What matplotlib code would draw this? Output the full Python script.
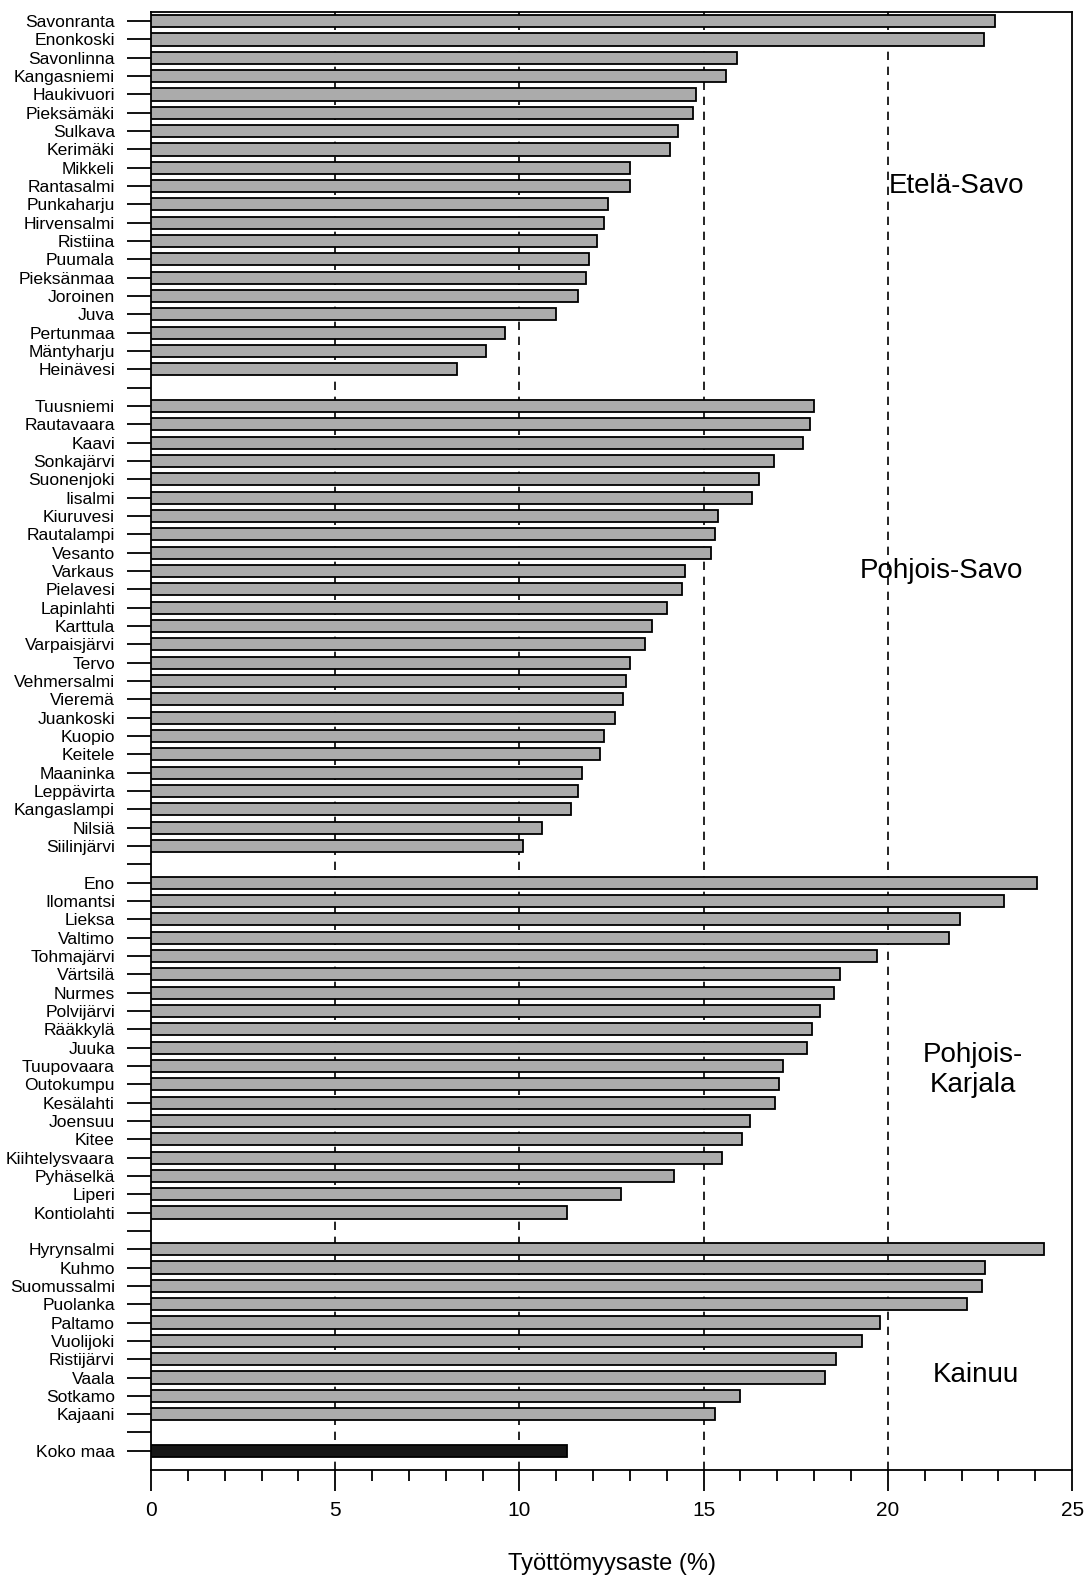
import matplotlib
matplotlib.use("Agg")
import matplotlib.pyplot as plt
import numpy as np

plt.rcParams['font.family'] = ['Liberation Sans', 'DejaVu Sans']

# Työttömyysaste (%) by municipality, grouped by region
etela_savo = ["Savonranta", "Enonkoski", "Savonlinna", "Kangasniemi", "Haukivuori",
              "Pieksämäki", "Sulkava", "Kerimäki", "Mikkeli", "Rantasalmi",
              "Punkaharju", "Hirvensalmi", "Ristiina", "Puumala", "Pieksänmaa",
              "Joroinen", "Juva", "Pertunmaa", "Mäntyharju", "Heinävesi"]
etela_savo_vals = [22.9, 22.6, 15.9, 15.6, 14.8, 14.7, 14.3, 14.1, 13.0, 13.0,
                   12.4, 12.3, 12.1, 11.9, 11.8, 11.6, 11.0, 9.6, 9.1, 8.3]

pohjois_savo = ["Tuusniemi", "Rautavaara", "Kaavi", "Sonkajärvi", "Suonenjoki",
                "Iisalmi", "Kiuruvesi", "Rautalampi", "Vesanto", "Varkaus",
                "Pielavesi", "Lapinlahti", "Karttula", "Varpaisjärvi", "Tervo",
                "Vehmersalmi", "Vieremä", "Juankoski", "Kuopio", "Keitele",
                "Maaninka", "Leppävirta", "Kangaslampi", "Nilsiä", "Siilinjärvi"]
pohjois_savo_vals = [18.0, 17.9, 17.7, 16.9, 16.5, 16.3, 15.4, 15.3, 15.2, 14.5,
                     14.4, 14.0, 13.6, 13.4, 13.0, 12.9, 12.8, 12.6, 12.3, 12.2,
                     11.7, 11.6, 11.4, 10.6, 10.1]

pohjois_karjala = ["Eno", "Ilomantsi", "Lieksa", "Valtimo", "Tohmajärvi",
                   "Värtsilä", "Nurmes", "Polvijärvi", "Rääkkylä", "Juuka",
                   "Tuupovaara", "Outokumpu", "Kesälahti", "Joensuu", "Kitee",
                   "Kiihtelysvaara", "Pyhäselkä", "Liperi", "Kontiolahti"]
pohjois_karjala_vals = [24.05, 23.15, 21.95, 21.65, 19.7, 18.7, 18.55, 18.15, 17.95,
                        17.8, 17.15, 17.05, 16.95, 16.25, 16.05, 15.5, 14.2, 12.75, 11.3]

kainuu = ["Hyrynsalmi", "Kuhmo", "Suomussalmi", "Puolanka", "Paltamo",
          "Vuolijoki", "Ristijärvi", "Vaala", "Sotkamo", "Kajaani"]
kainuu_vals = [24.25, 22.65, 22.55, 22.15, 19.8, 19.3, 18.6, 18.3, 16.0, 15.3]

koko_maa = ["Koko maa"]
koko_maa_vals = [11.3]

groups = [(etela_savo, etela_savo_vals), (pohjois_savo, pohjois_savo_vals),
          (pohjois_karjala, pohjois_karjala_vals), (kainuu, kainuu_vals),
          (koko_maa, koko_maa_vals)]

region_labels = ["Etelä-Savo", "Pohjois-Savo", "Pohjois-\nKarjala", "Kainuu"]

# build row list with an empty row between groups
labels = []
ys = []
vals = []
row = 0
for gi in range(len(groups)):
    names, v = groups[gi]
    for i in range(len(names)):
        labels.append(names[i])
        ys.append(row)
        vals.append(v[i])
        row += 1
    if gi < len(groups) - 1:
        labels.append("")
        row += 1
nrows = row

fig = plt.figure(figsize=(10.84, 15.78), dpi=100)
ax = fig.add_axes([0.1393, 0.0684, 0.8497, 0.924])

colors = ['#ababab'] * (len(vals) - 1) + ['#161616']
ax.barh(ys, vals, height=0.66, color=colors, edgecolor='black', linewidth=1.3, zorder=3)

for gx in [5, 10, 15, 20]:
    ax.axvline(gx, color='black', linestyle=(0, (5, 4)), linewidth=1.2, zorder=1)

ax.set_xlim(0, 25)
ax.set_ylim(nrows - 1 + 1.05, -0.5)
ax.set_yticks(np.arange(nrows))
ax.set_yticklabels(labels, fontsize=12.6)
ax.tick_params(axis='y', length=17, width=1.3, pad=9)

ax.set_xticks([0, 5, 10, 15, 20, 25])
ax.set_xticks(np.arange(0, 26, 1), minor=True)
ax.tick_params(axis='x', which='major', length=15, width=1.3, labelsize=15, pad=7)
ax.tick_params(axis='x', which='minor', length=8, width=1.3)
ax.set_xlabel("Työttömyysaste (%)", fontsize=17, labelpad=24)

for s in ax.spines.values():
    s.set_linewidth(1.3)

# region names
region_x = [21.85, 21.45, 22.3, 22.4]
region_y = [9.0, 30.0, 57.2, 73.85]
for i in range(len(region_labels)):
    ax.text(region_x[i], region_y[i], region_labels[i], fontsize=20,
            ha='center', va='center', linespacing=1.2, zorder=4)

fig.savefig("out.png", dpi=100)
